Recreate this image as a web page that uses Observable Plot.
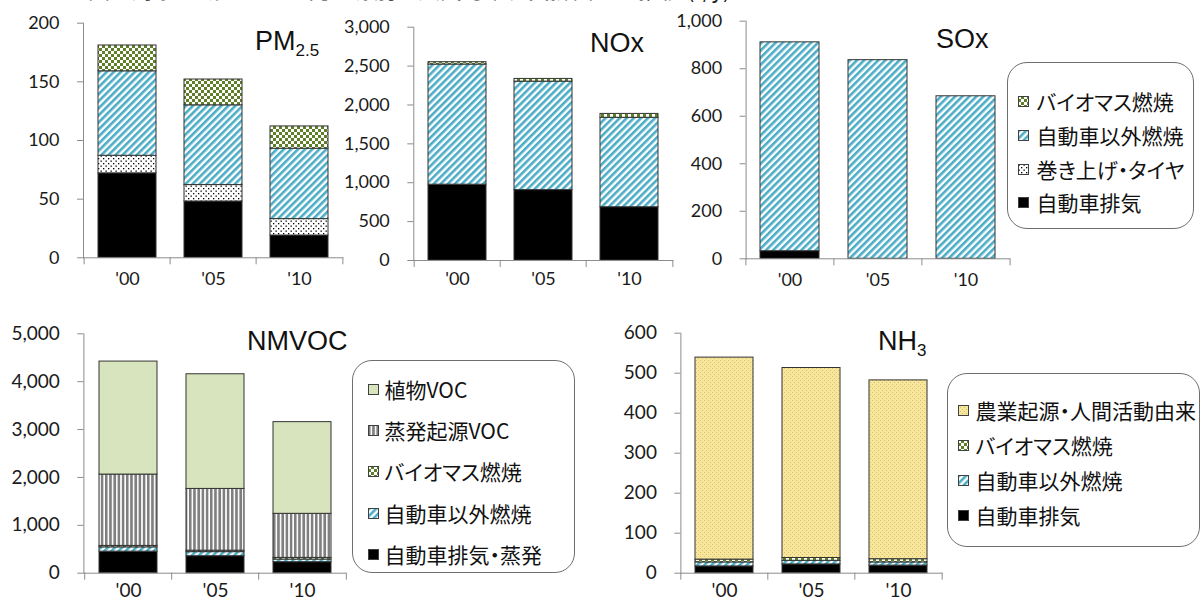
<!DOCTYPE html>
<html><head><meta charset="utf-8">
<script src="https://cdn.jsdelivr.net/npm/d3@7"></script>
<script src="https://cdn.jsdelivr.net/npm/@observablehq/plot@0.6"></script>
<style>
html,body{margin:0;padding:0;background:#fff;}
#root{position:relative;width:1201px;height:603px;overflow:hidden;background:#fff;}
.panel{position:absolute;}
.panel svg line,.panel svg path{stroke:#8c8c8c;}
.legend{position:absolute;border:1.5px solid #6e6e6e;border-radius:20px;box-sizing:border-box;font-family:"Noto Sans CJK JP",sans-serif;font-size:21px;color:#111;font-feature-settings:"palt";}
.item{position:absolute;white-space:nowrap;line-height:24px;height:24px;}
.item svg{position:absolute;top:7px;left:0;}
.item span.t{position:absolute;top:0;}
#overlay{position:absolute;left:0;top:0;pointer-events:none;}
</style>
</head><body>
<svg width="0" height="0" style="position:absolute">
<defs>
<pattern id="pHatch" width="5" height="5" patternUnits="userSpaceOnUse" patternTransform="rotate(45)">
<rect width="5" height="5" fill="#fff"/><rect width="2.6" height="5" fill="#4bacc6"/>
</pattern>
<pattern id="pCheck" width="6" height="6" patternUnits="userSpaceOnUse">
<rect width="6" height="6" fill="#5e7f28"/><rect width="3" height="3" fill="#fff"/><rect x="3" y="3" width="3" height="3" fill="#fff"/>
</pattern>
<pattern id="pDots" width="5" height="5" patternUnits="userSpaceOnUse">
<rect width="5" height="5" fill="#fff"/><rect x="0.5" y="0.5" width="1.3" height="1.3" fill="#000"/><rect x="3" y="3" width="1.3" height="1.3" fill="#000"/>
</pattern>
<pattern id="pVStripe" width="4.2" height="4" patternUnits="userSpaceOnUse">
<rect width="4.2" height="4" fill="#fff"/><rect width="2.6" height="4" fill="#7f7f7f"/>
</pattern>
<pattern id="pAgri" width="4" height="4" patternUnits="userSpaceOnUse">
<rect width="4" height="4" fill="#f7e69e"/><rect x="0" y="0" width="1" height="1" fill="#dcc060"/><rect x="2" y="2" width="1" height="1" fill="#dcc060"/>
</pattern>
</defs>
</svg>
<div id="root"></div>
<script>
// ---- data ----
const years = ["'00", "'05", "'10"];

const topSeries = ["自動車排気", "巻き上げ・タイヤ", "自動車以外燃焼", "バイオマス燃焼"];
const pmExhaust = [72, 48, 19];
const pmDust = [15, 14, 14];
const pmNonAuto = [72, 68, 60];
const pmBiomass = [22, 22, 19];

const noxExhaust = [975, 905, 685];
const noxDust = [0, 0, 0];
const noxNonAuto = [1545, 1395, 1150];
const noxBiomass = [30, 35, 50];

const soxExhaust = [32, 0, 0];
const soxDust = [0, 0, 0];
const soxNonAuto = [879, 836, 684];
const soxBiomass = [0, 0, 0];

const vocSeries = ["自動車排気・蒸発", "自動車以外燃焼", "バイオマス燃焼", "蒸発起源VOC", "植物VOC"];
const vocExhaust = [450, 355, 230];
const vocNonAuto = [90, 85, 55];
const vocBiomass = [30, 30, 35];
const vocEvap = [1490, 1290, 920];
const vocPlant = [2360, 2395, 1915];

const nh3Series = ["自動車排気", "自動車以外燃焼", "バイオマス燃焼", "農業起源・人間活動由来"];
const nh3Exhaust = [17, 22, 19];
const nh3NonAuto = [10, 9, 8];
const nh3Biomass = [7, 7, 8];
const nh3Agri = [505, 475, 447];

// ---- styles ----
const fillOf = {
  "自動車排気": "#000", "自動車排気・蒸発": "#000",
  "巻き上げ・タイヤ": "url(#pDots)", "自動車以外燃焼": "url(#pHatch)",
  "バイオマス燃焼": "url(#pCheck)", "蒸発起源VOC": "url(#pVStripe)",
  "植物VOC": "#d7e4bd", "農業起源・人間活動由来": "url(#pAgri)"
};

function toRows(series, arrays) {
  const rows = [];
  series.forEach((s, k) => years.forEach((y, i) => {
    if (arrays[k][i] > 0) rows.push({year: y, series: s, value: arrays[k][i]});
  }));
  return rows;
}

const root = document.getElementById("root");

function panel({left, top, width, height, frame, yMax, yStep, fontSize, xPad, rows, series}) {
  const [x0, y0, x1, y1] = frame;
  const step = (x1 - x0) / years.length;
  const svg = Plot.plot({
    width, height,
    marginLeft: x0 - left, marginTop: y0 - top,
    marginRight: left + width - x1, marginBottom: top + height - y1,
    style: {background: "transparent", fontFamily: "Lato, sans-serif", fontSize: fontSize + "px", color: "#1a1a1a", overflow: "visible"},
    x: {domain: years, paddingInner: 0.33, paddingOuter: 0.165, tickSize: 0, tickPadding: xPad, label: null},
    y: {domain: [0, yMax], ticks: d3.range(0, yMax + 1, yStep), tickSize: 6, tickPadding: 18, tickFormat: d3.format(","), label: null, line: true},
    color: {domain: series, range: series.map(s => fillOf[s])},
    marks: [
      Plot.barY(rows, {x: "year", y: "value", fill: "series", stroke: "#333", strokeWidth: 1}),
      Plot.ruleY([0]),
      Plot.ruleX(years, {x: d => d, y1: 0, y2: 0, insetBottom: -7, dx: -step / 2}),
      Plot.ruleX(years.slice(-1), {x: d => d, y1: 0, y2: 0, insetBottom: -7, dx: step / 2})
    ]
  });
  const div = document.createElement("div");
  div.className = "panel";
  div.style.left = left + "px";
  div.style.top = top + "px";
  div.appendChild(svg);
  root.appendChild(div);
}

panel({left: 0, top: 0, width: 347, height: 300, frame: [83, 22.7, 343.3, 257.3], yMax: 200, yStep: 50, fontSize: 18, xPad: 14,
  rows: toRows(topSeries, [pmExhaust, pmDust, pmNonAuto, pmBiomass]), series: topSeries});
panel({left: 340, top: 0, width: 335, height: 300, frame: [413.3, 26.7, 673.3, 260], yMax: 3000, yStep: 500, fontSize: 18, xPad: 12,
  rows: toRows(topSeries, [noxExhaust, noxDust, noxNonAuto, noxBiomass]), series: topSeries});
panel({left: 675, top: 0, width: 340, height: 300, frame: [745.6, 20.7, 1010.2, 258.3], yMax: 1000, yStep: 200, fontSize: 18, xPad: 14,
  rows: toRows(topSeries, [soxExhaust, soxDust, soxNonAuto, soxBiomass]), series: topSeries});
panel({left: 0, top: 300, width: 350, height: 303, frame: [83.4, 333.3, 346.3, 572.7], yMax: 5000, yStep: 1000, fontSize: 19, xPad: 10,
  rows: toRows(vocSeries, [vocExhaust, vocNonAuto, vocBiomass, vocEvap, vocPlant]), series: vocSeries});
panel({left: 600, top: 300, width: 350, height: 303, frame: [680.4, 332.7, 942.5, 572.7], yMax: 600, yStep: 100, fontSize: 19, xPad: 10,
  rows: toRows(nh3Series, [nh3Exhaust, nh3NonAuto, nh3Biomass, nh3Agri]), series: nh3Series});

// ---- legends ----
function legend({box, items, firstY, gap, swatchX, textX}) {
  const [bl, bt, bw, bh] = box;
  const lg = document.createElement("div");
  lg.className = "legend";
  Object.assign(lg.style, {left: bl + "px", top: bt + "px", width: bw + "px", height: bh + "px"});
  items.forEach((name, i) => {
    const it = document.createElement("div");
    it.className = "item";
    it.style.left = (swatchX - bl - 1.5) + "px";
    it.style.top = (firstY + i * gap - bt - 1.5 - 12) + "px";
    it.innerHTML = `<svg width="11" height="11"><rect x="0.5" y="0.5" width="10" height="10" fill="${fillOf[name]}" stroke="#404040" stroke-width="1"/></svg><span class="t" style="left:${textX - swatchX}px">${name}</span>`;
    lg.appendChild(it);
  });
  root.appendChild(lg);
}
legend({box: [1007, 62, 187, 167], items: topSeries.slice().reverse(), firstY: 101.5, gap: 33.8, swatchX: 1018, textX: 1037});
legend({box: [352, 360, 223, 213], items: vocSeries.slice().reverse(), firstY: 389, gap: 41.4, swatchX: 368, textX: 385});
legend({box: [947, 373, 253, 174], items: nh3Series.slice().reverse(), firstY: 410, gap: 35, swatchX: 958, textX: 976});

// ---- titles ----
const ns = "http://www.w3.org/2000/svg";
const ov = document.createElementNS(ns, "svg");
ov.setAttribute("id", "overlay");
ov.setAttribute("width", 1201);
ov.setAttribute("height", 603);
ov.innerHTML = `
<text x="88" y="-2" font-family="Noto Sans CJK JP" font-size="22" fill="#222">図　対象地域における発生源別の大気汚染物質排出量の推移 (t/y)</text>
<text x="255" y="50" font-family="Liberation Sans, Arial" font-size="27" fill="#111">PM<tspan font-size="17" dy="6">2.5</tspan></text>
<text x="590" y="52" font-family="Liberation Sans, Arial" font-size="27" fill="#111">NOx</text>
<text x="936" y="48" font-family="Liberation Sans, Arial" font-size="27" fill="#111">SOx</text>
<text x="247" y="350" font-family="Liberation Sans, Arial" font-size="27" fill="#111">NMVOC</text>
<text x="878" y="350" font-family="Liberation Sans, Arial" font-size="27" fill="#111">NH<tspan font-size="17" dy="6">3</tspan></text>`;
root.appendChild(ov);
</script>
</body></html>
